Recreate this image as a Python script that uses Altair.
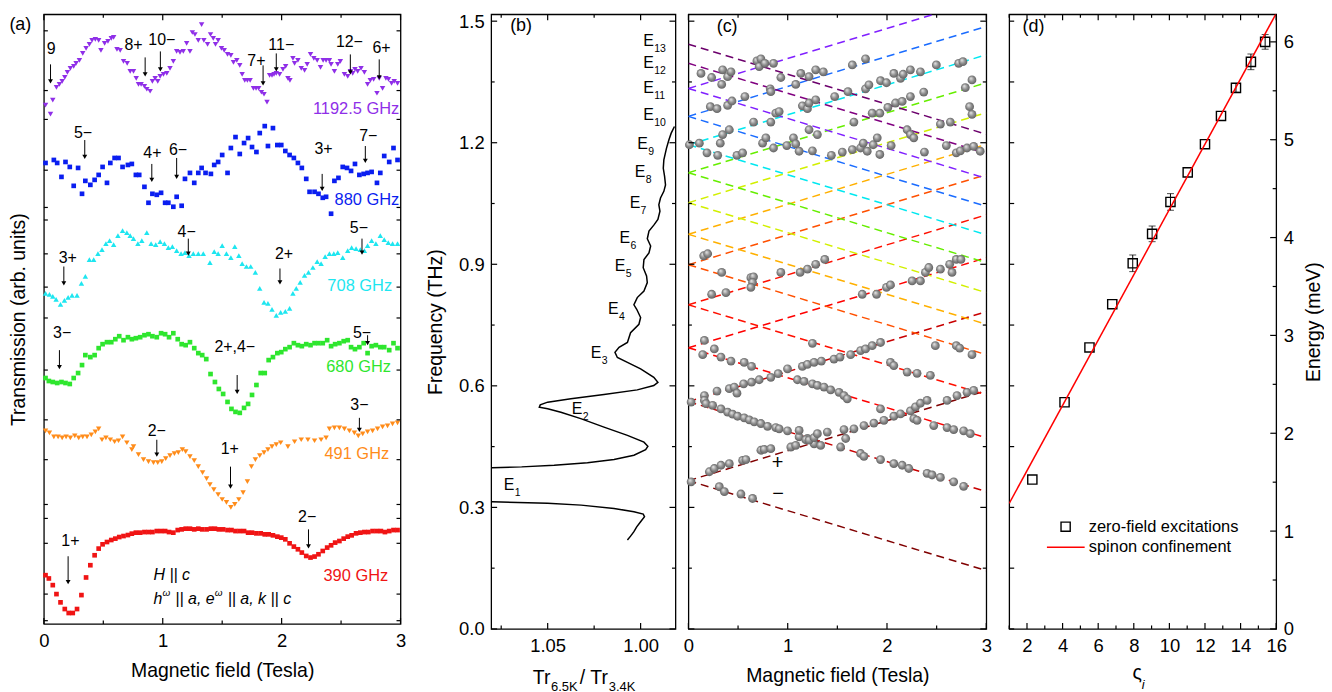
import altair as alt
import pandas as pd

FONT = "Liberation Sans"
LAB = 18.5
TIT = 19.5
ANN = 16

# ======================= panel (a): transmission spectra =======================
a1192_x = [0.014,0.056,0.075,0.106,0.131,0.154,0.176,0.198,0.223,0.251, 0.271,0.299,0.327,0.355,0.383,0.405,0.433,0.461,0.480,0.511,
           0.539,0.567,0.587,0.615,0.642,0.670,0.701,0.726,0.754,0.777, 0.796,0.818,0.846,0.866,0.894,0.913,0.936,0.958,0.978,1.006,
           1.034,1.061,1.089,1.117,1.145,1.173,1.201,1.229,1.249,1.271, 1.299,1.327,1.346,1.377,1.402,1.425,1.444,1.466,1.494,1.517,
           1.545,1.573,1.595,1.623,1.648,1.668,1.690,1.712,1.735,1.763, 1.785,1.807,1.830,1.852,1.877,1.899,1.919,1.936,1.955,1.983,
           2.011,2.034,2.053,2.070,2.095,2.109,2.137,2.165,2.193,2.215, 2.243,2.271,2.299,2.327,2.349,2.374,2.402,2.416,2.444,2.472,
           2.494,2.528,2.556,2.578,2.598,2.617,2.640,2.668,2.696,2.723, 2.746,2.774,2.802,2.821,2.849,2.877,2.899,2.925,2.947,2.975]
a1192_y = [5.21,5.12,5.26,5.39,5.42,5.45,5.49,5.54,5.58,5.60, 5.63,5.66,5.73,5.78,5.82,5.86,5.87,5.86,5.76,5.83,
           5.85,5.88,5.89,5.77,5.76,5.65,5.63,5.55,5.55,5.48, 5.42,5.42,5.40,5.37,5.35,5.45,5.48,5.45,5.50,5.52,
           5.53,5.58,5.65,5.75,5.74,5.75,5.83,5.75,5.94,5.92, 5.86,6.02,5.86,5.82,5.92,5.88,5.82,5.86,5.78,5.76,
           5.72,5.71,5.64,5.66,5.61,5.52,5.46,5.46,5.46,5.38, 5.38,5.38,5.34,5.32,5.24,5.51,5.51,5.52,5.53,5.52,
           5.57,5.60,5.48,5.46,5.68,5.63,5.66,5.58,5.56,5.62, 5.72,5.68,5.66,5.59,5.66,5.66,5.66,5.62,5.55,5.62,
           5.65,5.52,5.50,5.55,5.53,5.57,5.55,5.58,5.54,5.42, 5.46,5.47,5.33,5.48,5.38,5.48,5.47,5.43,5.45,5.43]

a880_x = [0.014,0.084,0.112,0.148,0.182,0.218,0.251,0.288,0.321,0.349, 0.391,0.427,0.461,0.494,0.531,0.559,0.595,0.628,0.662,0.707,
          0.740,0.774,0.802,0.846,0.880,0.913,0.950,0.986,1.020,1.047, 1.089,1.117,1.159,1.187,1.229,1.265,1.299,1.327,1.360,1.405,
          1.433,1.466,1.500,1.545,1.573,1.612,1.648,1.684,1.718,1.751, 1.788,1.816,1.858,1.885,1.927,1.964,1.997,2.031,2.067,2.103,
          2.137,2.170,2.207,2.235,2.277,2.310,2.346,2.374,2.416,2.444, 2.478,2.514,2.550,2.584,2.617,2.654,2.690,2.723,2.757,2.802,
          2.830,2.863,2.905,2.941,2.975]
a880_y = [4.63,4.66,4.63,4.49,4.64,4.59,4.40,4.58,4.32,4.45, 4.41,4.46,4.51,4.59,4.43,4.63,4.68,4.68,4.59,4.61,
          4.62,4.51,4.51,4.39,4.23,4.32,4.31,4.33,4.23,4.23, 4.19,4.29,4.20,4.47,4.53,4.43,4.53,4.58,4.53,4.52,
          4.61,4.64,4.71,4.53,4.78,4.89,4.72,4.83,4.88,4.79, 4.74,4.93,5.00,4.80,4.98,4.81,4.81,4.75,4.71,4.68,
          4.63,4.58,4.47,4.34,4.34,4.32,4.28,4.29,4.12,4.45, 4.48,4.59,4.58,4.55,4.62,4.51,4.52,4.53,4.54,4.43,
          4.53,4.70,4.64,4.78,4.66]

a708_x = [0.014,0.047,0.075,0.103,0.140,0.173,0.204,0.237,0.279,0.316, 0.349,0.383,0.419,0.455,0.489,0.522,0.553,0.587,0.623,0.662,
          0.698,0.726,0.754,0.791,0.824,0.866,0.902,0.941,0.978,1.014, 1.047,1.081,1.117,1.154,1.187,1.221,1.257,1.299,1.341,1.397,
          1.433,1.466,1.500,1.536,1.573,1.606,1.640,1.668,1.704,1.740, 1.779,1.816,1.852,1.885,1.919,1.955,1.992,2.031,2.067,2.095,
          2.123,2.156,2.193,2.226,2.263,2.299,2.332,2.366,2.402,2.439, 2.472,2.514,2.556,2.589,2.626,2.662,2.696,2.723,2.757,2.793,
          2.830,2.863,2.897,2.933,2.975]
a708_y = [3.32,3.31,3.29,3.26,3.21,3.25,3.28,3.30,3.30,3.42, 3.49,3.66,3.66,3.72,3.76,3.82,3.85,3.81,3.90,3.95,
          3.93,3.90,3.87,3.82,3.85,3.93,3.82,3.81,3.84,3.82, 3.78,3.79,3.75,3.72,3.73,3.70,3.72,3.72,3.72,3.63,
          3.74,3.72,3.80,3.72,3.68,3.79,3.70,3.62,3.59,3.59, 3.53,3.37,3.23,3.22,3.16,3.10,3.13,3.14,3.17,3.32,
          3.37,3.43,3.50,3.53,3.58,3.64,3.62,3.69,3.72,3.72, 3.73,3.68,3.75,3.78,3.77,3.76,3.75,3.80,3.85,3.82,
          3.90,3.86,3.83,3.82,3.82]

a680_x = [0.014,0.042,0.075,0.112,0.148,0.182,0.218,0.251,0.288,0.321, 0.349,0.391,0.427,0.461,0.494,0.531,0.567,0.601,0.634,0.670,
          0.707,0.740,0.774,0.810,0.846,0.880,0.913,0.950,0.986,1.020, 1.053,1.089,1.126,1.159,1.193,1.229,1.265,1.299,1.332,1.366,
          1.402,1.439,1.472,1.508,1.545,1.578,1.612,1.648,1.684,1.718, 1.751,1.788,1.824,1.858,1.891,1.927,1.964,1.997,2.031,2.067,
          2.103,2.137,2.170,2.207,2.243,2.277,2.310,2.346,2.383,2.416, 2.450,2.486,2.522,2.556,2.584,2.617,2.654,2.690,2.723,2.757,
          2.793,2.830,2.863,2.905,2.941,2.975]
a680_y = [2.47,2.44,2.43,2.42,2.43,2.42,2.41,2.47,2.52,2.60, 2.70,2.68,2.70,2.77,2.81,2.83,2.83,2.86,2.89,2.85,
          2.88,2.86,2.87,2.88,2.90,2.91,2.89,2.88,2.92,2.91, 2.88,2.92,2.86,2.81,2.80,2.83,2.77,2.72,2.70,2.66,
          2.51,2.43,2.36,2.31,2.23,2.16,2.13,2.12,2.17,2.21, 2.30,2.40,2.52,2.52,2.65,2.68,2.72,2.73,2.76,2.78,
          2.82,2.80,2.79,2.81,2.80,2.82,2.82,2.82,2.85,2.79, 2.81,2.82,2.84,2.85,2.78,2.76,2.78,2.82,2.72,2.79,
          2.80,2.78,2.78,2.75,2.82,2.77]

a491_x = [0.014,0.047,0.084,0.120,0.154,0.187,0.223,0.260,0.293,0.327, 0.363,0.399,0.433,0.461,0.489,0.522,0.559,0.595,0.628,0.662,
          0.698,0.740,0.754,0.796,0.838,0.880,0.922,0.958,0.992,1.025, 1.061,1.098,1.131,1.165,1.193,1.229,1.265,1.299,1.335,1.369,
          1.397,1.430,1.466,1.500,1.536,1.573,1.606,1.640,1.676,1.712, 1.746,1.779,1.816,1.852,1.885,1.919,1.955,1.992,2.053,2.109,
          2.165,2.221,2.277,2.332,2.374,2.402,2.444,2.486,2.528,2.570, 2.612,2.645,2.682,2.723,2.765,2.807,2.849,2.891,2.933,2.975]
a491_y = [1.94,1.92,1.88,1.88,1.87,1.88,1.87,1.89,1.87,1.88, 1.88,1.90,1.93,1.96,1.85,1.87,1.85,1.83,1.84,1.88,
          1.82,1.75,1.78,1.70,1.65,1.63,1.62,1.62,1.63,1.66, 1.69,1.71,1.72,1.75,1.73,1.68,1.64,1.58,1.52,1.46,
          1.40,1.35,1.30,1.25,1.22,1.17,1.20,1.25,1.32,1.43, 1.58,1.65,1.69,1.72,1.75,1.78,1.80,1.82,1.78,1.83,
          1.85,1.85,1.84,1.85,1.87,1.96,1.97,1.97,1.96,1.94, 1.92,1.89,1.91,1.93,1.94,1.96,1.98,1.99,2.01,2.02]

a390_x = [0.014,0.042,0.075,0.106,0.140,0.176,0.209,0.243,0.279,0.316, 0.355,0.391,0.427,0.461,0.494,0.531,0.567,0.601,0.634,0.670,
          0.707,0.740,0.774,0.810,0.846,0.880,0.913,0.950,0.986,1.020, 1.053,1.089,1.126,1.159,1.193,1.229,1.265,1.299,1.332,1.369,
          1.405,1.439,1.472,1.508,1.545,1.578,1.612,1.648,1.684,1.718, 1.751,1.788,1.824,1.858,1.891,1.927,1.964,1.997,2.031,2.067,
          2.103,2.137,2.170,2.207,2.243,2.277,2.310,2.346,2.383,2.416, 2.450,2.486,2.522,2.556,2.589,2.626,2.662,2.696,2.729,2.765,
          2.802,2.835,2.869,2.905,2.941,2.975]
a390_y = [0.49,0.457,0.39,0.30,0.217,0.15,0.11,0.11,0.15,0.29, 0.467,0.59,0.69,0.757,0.80,0.823,0.843,0.857,0.873,0.883,
          0.893,0.907,0.917,0.917,0.923,0.923,0.923,0.933,0.933,0.933, 0.923,0.917,0.943,0.95,0.957,0.957,0.95,0.957,0.95,0.95,
          0.957,0.957,0.95,0.95,0.943,0.943,0.933,0.933,0.933,0.917, 0.917,0.91,0.91,0.90,0.90,0.89,0.877,0.867,0.85,0.81,
          0.777,0.75,0.717,0.683,0.667,0.677,0.70,0.733,0.767,0.79, 0.817,0.833,0.857,0.877,0.89,0.91,0.917,0.923,0.923,0.933,
          0.933,0.933,0.923,0.933,0.943,0.943]

# arrow annotations (field, upper end, lower end) and their labels
a_arrow_x = [0.056,0.852,0.980,1.844,1.955,2.578,2.821, 0.344,0.908,1.117,2.341,2.704, 0.168,1.215,1.986,2.676,
             0.131,1.626,2.723, 0.950,1.570,2.654, 0.204,2.226]
a_arrow_top = [5.62,5.69,5.75,5.61,5.73,5.72,5.67, 4.86,4.62,4.68,4.52,4.80, 3.59,3.87,3.57,3.87,
               2.75,2.50,2.90, 1.85,1.58,2.07, 0.68,0.95]
a_arrow_bot = [5.45,5.52,5.57,5.43,5.57,5.54,5.49, 4.69,4.46,4.49,4.37,4.65, 3.42,3.72,3.43,3.73,
               2.58,2.33,2.82, 1.70,1.38,1.95, 0.42,0.78]
a_lab_text = ["9","8+","10\u2212","7+","11\u2212","12\u2212","6+", "5\u2212","4+","6\u2212","3+","7\u2212",
              "3+","4\u2212","2+","5\u2212", "3\u2212","2+,4\u2212","5\u2212", "2\u2212","1+","3\u2212", "1+","2\u2212"]
a_lab_x = [0.061,0.754,0.992,1.788,1.997,2.570,2.840, 0.330,0.913,1.128,2.352,2.729, 0.201,1.201,2.020,2.650,
           0.154,1.606,2.676, 0.950,1.564,2.654, 0.223,2.215]
a_lab_y = [5.77,5.81,5.86,5.65,5.81,5.84,5.78, 4.93,4.73,4.76,4.77,4.90, 3.68,3.94,3.72,3.98,
           2.92,2.78,2.92, 1.94,1.76,2.20, 0.83,1.07]
a_freq_text = ["1192.5 GHz", "880 GHz", "708 GHz", "680 GHz", "491 GHz", "390 GHz"]
a_freq_x = [2.99, 2.99, 2.93, 2.92, 2.905, 2.897]
a_freq_y = [5.17, 4.26, 3.39, 2.58, 1.71, 0.48]
a_colors = ["#8f2fe8", "#0a1ef0", "#1ee6f0", "#2ee62e", "#ff8c1a", "#f01414"]
a_yticks = [5.957,5.357,5.067,4.557,4.183,4.057,3.717,3.383,3.073,2.55,2.05,1.65,1.20,1.06,0.81,0.30,0.033]

# ======================= panel (b): transmission ratio =======================
b_low_r = [1.0071,1.0054,1.0036,1.0021,1.0000,0.9979,0.9986,1.0036,1.0143,1.0320,1.0500,1.0660,1.0800]
b_low_f = [0.2196,0.229,0.240,0.252,0.2646,0.277,0.2835,0.289,0.2975,0.3056,0.310,0.312,0.3137]
b_high_r = [1.0800,1.0640,1.0465,1.0286,1.0143,1.0036,0.9973,0.9961,0.9982,1.0071,1.0197,1.0322,1.0429,1.0500,1.0545,
            1.0540,1.0500,1.0375,1.0197,1.0018,0.9929,0.9907,0.9929,1.0000,1.0071,1.0125,1.0138,1.0116,1.0071,1.0054,
            1.0009,1.0000,1.0021,1.0036,1.0018,0.9982,0.9964,0.9968,0.9986,0.9982,0.9955,0.9946,0.9964,0.9955,0.9929,
            0.9907,0.9896,0.9902,0.9893,0.9875,0.9866,0.9871,0.9878,0.9875,0.9861,0.9848,0.9836,0.9818]
b_high_f = [0.398,0.400,0.404,0.410,0.418,0.4286,0.4425,0.4507,0.461,0.4777,0.498,0.519,0.535,0.5434,0.5473,
            0.553,0.5597,0.568,0.5786,0.590,0.6007,0.6088,0.621,0.6418,0.658,0.670,0.6826,0.695,0.707,0.731,
            0.752,0.7687,0.789,0.800,0.8178,0.834,0.8547,0.871,0.8916,0.912,0.928,0.945,0.963,0.982,0.9966,
            1.0105,1.031,1.047,1.0637,1.080,1.096,1.117,1.137,1.1575,1.186,1.2066,1.223,1.240]
b_E_sub = ["1","2","3","4","5","6","7","8","9","10","11","12","13"]
b_E_r = [1.0736,1.0370,1.0268,1.0175,1.0139,1.0113,1.0059,1.0031,1.0018,0.9986,0.9986,0.9986,0.9986]
b_E_f = [0.3548,0.5434,0.680,0.789,0.8957,0.9654,1.0514,1.1276,1.1965,1.2687,1.3359,1.3957,1.4507]

# ======================= panel (c): field dependence =======================
c_f0 = [0.366,0.561,0.694,0.800,0.899,0.974,1.052,1.126,1.195,1.265,1.334,1.396,1.443]
c_up3 = [0.588,0.783,0.916,1.022,1.121,1.196,1.274,1.348,1.417,1.487,1.556,None,None]
c_dn3 = [0.144,0.339,0.472,0.578,0.677,0.752,0.830,0.904,0.973,1.043,1.112,1.174,1.221]
c_colors = ["#800000","#c80000","#ff0000","#ff1000","#ff5000","#ffb000","#d2f000","#66ee00",
            "#00e8f0","#1a6cff","#8020ff","#800080","#6c006c"]
c_ball_B = [0.144,0.261,0.328,0.429,0.562,0.636,1.249, 1.098,1.165,1.249,1.299,1.366,1.433,1.517,1.567,1.600,1.935,2.270,2.303,2.471,2.605,2.672,2.772,2.839,
            2.035,2.069,2.203,2.303,2.437, 2.487,2.698,2.732,2.856,
            0.161,0.288,0.412,0.462,0.489,0.556,0.636,0.713,0.830,0.904,0.998,1.148,1.199,1.266,1.339,1.466,1.527,1.634,1.734,1.784,1.851,1.935,
            0.027,0.161,0.177,0.244,0.328,0.395,0.445,0.495,0.562,0.613,0.663,0.730,0.797,0.880,0.914,0.998,1.115,1.199,1.266,1.332,1.533,1.734,1.768,1.935,2.069,2.153,2.220,2.404,2.454,2.538,2.672,2.772,
            0.027,0.211,0.261,0.328,0.412,0.546,0.579,0.730,0.763,0.830,1.031,1.081,1.115,1.182,1.215,1.266,1.299,1.399,1.567,1.584,1.667,1.768,1.868,1.969,2.069,2.136,2.236,2.287,2.337,2.404,2.605,2.705,2.806,2.873,
            0.311,0.362,0.529,0.646,
            0.154,0.194,0.335,0.629,0.656,0.646,0.629,0.234,0.378,0.931,1.125,1.199,1.282,1.373,1.751,1.895,1.995,2.035,2.253,2.337,2.387,2.421,2.538,2.631,2.655,2.698,2.745,0.161,
            0.010,0.110,0.187,0.295,0.321,0.345,0.412,0.489,0.546,0.656,0.747,0.780,0.830,0.857,0.991,1.058,1.081,1.115,1.215,1.249,1.299,1.440,1.550,1.651,1.667,1.734,1.761,1.801,1.861,1.902,1.928,2.042,2.203,2.236,2.270,2.377,2.538,2.598,2.638,2.698,2.739,2.806,2.873,2.939,
            0.221,0.288,0.395,0.439,0.569,0.824,0.830,0.880,0.914,1.148,1.199,1.215,1.282,1.473,1.607,1.784,1.818,1.851,1.928,2.009,2.086,2.153,2.236,2.370,2.832,2.856,
            0.127,0.234,0.335,0.345,0.395,0.429,0.690,0.713,0.730,0.770,0.857,0.931,1.081,1.132,1.215,1.282,1.359,1.651,1.784,1.935,1.995,2.069,2.136,2.163,2.236,2.337,2.497,2.722,2.765,2.789,2.856]
c_ball_f = [0.677,0.691,0.671,0.661,0.658,0.648,0.705, 0.615,0.611,0.605,0.601,0.597,0.590,0.584,0.576,0.568,0.543,0.519,0.515,0.502,0.497,0.492,0.489,0.482,
            0.658,0.650,0.634,0.631,0.626, 0.699,0.699,0.693,0.677,
            0.576,0.587,0.593,0.597,0.582,0.605,0.609,0.615,0.621,0.630,0.642,0.648,0.653,0.658,0.661,0.666,0.671,0.677,0.687,0.691,0.699,0.707,
            0.560,0.564,0.556,0.552,0.543,0.535,0.530,0.525,0.521,0.516,0.511,0.507,0.500,0.497,0.494,0.489,0.474,0.470,0.457,0.453,0.449,0.433,0.426,0.418,0.408,0.404,0.396,0.384,0.380,0.374,0.363,0.352,
            0.363,0.388,0.396,0.404,0.408,0.416,0.418,0.441,0.443,0.445,0.449,0.453,0.490,0.467,0.466,0.472,0.482,0.486,0.492,0.470,0.494,0.502,0.508,0.515,0.525,0.531,0.538,0.548,0.557,0.564,0.564,0.576,0.584,0.589,
            0.351,0.339,0.333,0.322,
            0.921,0.926,0.880,0.867,0.869,0.855,0.843,0.826,0.830,0.880,0.880,0.888,0.900,0.912,0.826,0.826,0.843,0.849,0.859,0.859,0.880,0.892,0.888,0.900,0.880,0.912,0.912,0.712,
            1.195,1.199,1.175,1.169,1.199,1.220,1.232,1.169,1.175,1.251,1.199,1.212,1.251,1.187,1.193,1.212,1.197,1.179,1.232,1.180,1.220,1.169,1.177,1.183,1.251,1.187,1.199,1.179,1.195,1.212,1.171,1.193,1.232,1.220,1.212,1.177,1.246,1.193,1.251,1.175,1.180,1.187,1.191,1.179,
            1.289,1.284,1.292,1.303,1.314,1.333,1.326,1.273,1.277,1.291,1.284,1.298,1.306,1.314,1.326,1.333,1.343,1.273,1.273,1.287,1.298,1.302,1.314,1.325,1.289,1.270,
            1.371,1.361,1.344,1.380,1.363,1.375,1.402,1.388,1.407,1.396,1.396,1.361,1.344,1.371,1.363,1.380,1.375,1.392,1.407,1.353,1.348,1.371,1.359,1.369,1.380,1.375,1.392,1.396,1.400,1.336,1.355]

# ======================= panel (d): zero-field excitations =======================
d_zeta = [2.30,4.11,5.51,6.79,7.94,9.03,10.06,11.03,12.00,12.90,13.74,14.58,15.38]
d_E = [1.527,2.317,2.877,3.319,3.737,4.038,4.364,4.666,4.954,5.243,5.530,5.796,6.000]
d_err = [0,0,0,0,0.085,0.08,0.085,0,0,0,0.045,0.08,0.075]
d_line_x = [1.0, 16.0]
d_line_E = [1.283, 6.29]

# ======================= helpers =======================
def xy(xs, ys):
    n = min(len(xs), len(ys))
    return pd.DataFrame({"x": list(xs[:n]), "y": list(ys[:n])})


def xticks(vals, scale, axis, H, L):
    df = pd.DataFrame({"v": vals})
    base = alt.Chart(df).mark_rule(color="black", strokeWidth=1.2)
    X = alt.X("v:Q", scale=scale, axis=axis)
    return [base.encode(x=X, y=alt.value(H), y2=alt.value(H - L)),
            base.encode(x=X, y=alt.value(0), y2=alt.value(L))]


def yticks(vals, scale, axis, W, L, left=True, right=True):
    df = pd.DataFrame({"v": vals})
    base = alt.Chart(df).mark_rule(color="black", strokeWidth=1.2)
    Y = alt.Y("v:Q", scale=scale, axis=axis)
    out = []
    if left:
        out.append(base.encode(y=Y, x=alt.value(0), x2=alt.value(L)))
    if right:
        out.append(base.encode(y=Y, x=alt.value(W), x2=alt.value(W - L)))
    return out


def texts(xs, ys, ts, sx, sy, ax, ay, **kw):
    df = pd.DataFrame({"x": xs, "y": ys, "t": ts})
    return alt.Chart(df).mark_text(font=FONT, **kw).encode(
        x=alt.X("x:Q", scale=sx, axis=ax),
        y=alt.Y("y:Q", scale=sy, axis=ay),
        text="t:N")


def spacer(w, h):
    return alt.Chart(pd.DataFrame({"v": [0]})).mark_point(opacity=0).encode(
        x=alt.value(0), y=alt.value(0)).properties(
        width=w, height=h, view=alt.ViewBackground(stroke="transparent", strokeWidth=0))

# ======================= panel (a) =======================
WA, HA = 358, 612
xA = alt.Scale(domain=[0, 3], nice=False, zero=False)
yA = alt.Scale(domain=[0, 6.123], nice=False, zero=False)
axXA = alt.Axis(values=[0, 1, 2, 3], format="d", title="Magnetic field (Tesla)", labelPadding=8, titlePadding=11)
axYA = alt.Axis(title="Transmission (arb. units)", labels=False, titlePadding=15)
a_series = [(a1192_x, a1192_y, "triangle-down", 30), (a880_x, a880_y, "square", 22),
            (a708_x, a708_y, "triangle-up", 30), (a680_x, a680_y, "square", 22),
            (a491_x, a491_y, "triangle-down", 30), (a390_x, a390_y, "square", 22)]
layersA = []
for i, (xs, ys, shp, sz) in enumerate(a_series):
    layersA.append(alt.Chart(xy(xs, ys)).mark_point(shape=shp, filled=True, size=sz,
                                                    color=a_colors[i], opacity=1).encode(
        x=alt.X("x:Q", scale=xA, axis=axXA), y=alt.Y("y:Q", scale=yA, axis=axYA)))
arr = pd.DataFrame({"x": a_arrow_x, "y1": a_arrow_top, "y2": a_arrow_bot})
layersA.append(alt.Chart(arr).mark_rule(color="black", strokeWidth=1).encode(
    x=alt.X("x:Q", scale=xA, axis=axXA), y=alt.Y("y1:Q", scale=yA, axis=axYA), y2="y2:Q"))
layersA.append(alt.Chart(arr).mark_point(shape="triangle-down", filled=True, size=24, color="black", opacity=1).encode(
    x=alt.X("x:Q", scale=xA, axis=axXA), y=alt.Y("y2:Q", scale=yA, axis=axYA)))
layersA.append(texts(a_lab_x, a_lab_y, a_lab_text, xA, yA, axXA, axYA, fontSize=ANN, color="black"))
fdf = pd.DataFrame({"x": a_freq_x, "y": a_freq_y, "t": a_freq_text, "c": a_colors})
layersA.append(alt.Chart(fdf).mark_text(font=FONT, fontSize=16.5, align="right").encode(
    x=alt.X("x:Q", scale=xA, axis=axXA), y=alt.Y("y:Q", scale=yA, axis=axYA), text="t:N",
    color=alt.Color("c:N", scale=None)))
layersA.append(texts([0.922], [0.49], ["H || c"], xA, yA, axXA, axYA, fontSize=ANN, fontStyle="italic", align="left"))
layersA.append(texts([0.922, 1.106, 1.546], [0.25, 0.25, 0.25], ["h", "|| a, e", "|| a, k || c"], xA, yA, axXA, axYA,
                     fontSize=ANN, fontStyle="italic", align="left"))
layersA.append(texts([0.997, 1.437], [0.31, 0.31], ["\u03c9", "\u03c9"], xA, yA, axXA, axYA, fontSize=10,
                     fontStyle="italic", align="left"))
layersA.append(texts([-0.29], [6.015], ["(a)"], xA, yA, axXA, axYA, fontSize=18, align="left"))
layersA += xticks([0, 1, 2, 3], xA, axXA, HA, 6) + xticks([0.5, 1.5, 2.5], xA, axXA, HA, 3.5)
layersA += yticks(a_yticks, yA, axYA, WA, 4)
A = alt.layer(*layersA).properties(width=WA, height=HA)

# ======================= panel (b) =======================
WB, HB = 185, 617
xB = alt.Scale(domain=[0.98125, 1.0804], reverse=True, nice=False, zero=False)
yB = alt.Scale(domain=[0, 1.517], nice=False, zero=False)
axXB = alt.Axis(values=[1.05, 1.0], format=".2f", title=None, labelPadding=8)
axYB = alt.Axis(values=[0, 0.3, 0.6, 0.9, 1.2, 1.5], format=".1f", title="Frequency (THz)",
                labelPadding=7, titlePadding=13)
bdf = pd.concat([pd.DataFrame({"r": b_low_r, "f": b_low_f, "seg": "low"}),
                 pd.DataFrame({"r": b_high_r, "f": b_high_f, "seg": "high"})], ignore_index=True)
bdf["i"] = range(len(bdf))
layersB = [alt.Chart(bdf).mark_line(color="black", strokeWidth=1.5, clip=True).encode(
    x=alt.X("r:Q", scale=xB, axis=axXB), y=alt.Y("f:Q", scale=yB, axis=axYB),
    detail="seg:N", order="i:Q")]
layersB.append(texts(b_E_r, b_E_f, ["E"] * len(b_E_r), xB, yB, axXB, axYB, fontSize=16, align="left"))
layersB.append(texts(b_E_r, b_E_f, b_E_sub, xB, yB, axXB, axYB, fontSize=10.5, align="left", dx=11, dy=8))
layersB.append(texts([1.058, 1.0327], [-0.137, -0.137], ["Tr", "/ Tr"], xB, yB, axXB, axYB, fontSize=TIT,
                     align="left", baseline="alphabetic"))
layersB.append(texts([1.0482, 1.0171], [-0.152, -0.152], ["6.5K", "3.4K"], xB, yB, axXB, axYB, fontSize=13,
                     align="left", baseline="alphabetic"))
layersB.append(texts([1.0643], [1.487], ["(b)"], xB, yB, axXB, axYB, fontSize=18))
layersB += xticks([1.05, 1.0], xB, axXB, HB, 6) + xticks([1.075, 1.025], xB, axXB, HB, 3.5)
layersB += yticks([0, 0.3, 0.6, 0.9, 1.2, 1.5], yB, axYB, WB, 6) + yticks([0.15, 0.45, 0.75, 1.05, 1.35], yB, axYB, WB, 3.5)
B = alt.layer(*layersB).properties(width=WB, height=HB)

# ======================= panel (c) =======================
WC, HC = 299, 617
xC = alt.Scale(domain=[0, 3], nice=False, zero=False)
yC = alt.Scale(domain=[0, 1.517], nice=False, zero=False)
axXC = alt.Axis(values=[0, 1, 2, 3], format="d", title="Magnetic field (Tesla)", labelPadding=8, titlePadding=11)
axYC = None
rows = []
for k in range(len(c_f0)):
    lvl = "E%d" % (k + 1)
    for br, end in (("up", c_up3[k]), ("dn", c_dn3[k])):
        if end is None:
            continue
        rows.append({"lvl": lvl, "key": lvl + br, "B": 0.0, "f": c_f0[k]})
        rows.append({"lvl": lvl, "key": lvl + br, "B": 3.0, "f": end})
cdf = pd.DataFrame(rows)
lvls = ["E%d" % (k + 1) for k in range(len(c_f0))]
grad = alt.RadialGradient(gradient="radial",
                          stops=[alt.GradientStop(color="#eeeeee", offset=0),
                                 alt.GradientStop(color="#8e8e8e", offset=0.55),
                                 alt.GradientStop(color="#5a5a5a", offset=1)],
                          x1=0.35, y1=0.3, r1=0, x2=0.5, y2=0.5, r2=0.55)
layersC = [alt.Chart(cdf).mark_line(strokeDash=[8, 5], strokeWidth=1.5, clip=True).encode(
    x=alt.X("B:Q", scale=xC, axis=axXC), y=alt.Y("f:Q", scale=yC, axis=axYC),
    color=alt.Color("lvl:N", scale=alt.Scale(domain=lvls, range=c_colors), legend=None),
    detail="key:N")]
layersC.append(alt.Chart(xy(c_ball_B, c_ball_f)).mark_circle(size=78, fill=grad, opacity=1).encode(
    x=alt.X("x:Q", scale=xC, axis=axXC), y=alt.Y("y:Q", scale=yC, axis=axYC)))
layersC.append(texts([0.897, 0.904], [0.41, 0.333], ["+", "\u2212"], xC, yC, axXC, axYC, fontSize=20))
layersC.append(texts([0.39], [1.485], ["(c)"], xC, yC, axXC, axYC, fontSize=18))
layersC += xticks([0, 1, 2, 3], xC, axXC, HC, 6) + xticks([0.5, 1.5, 2.5], xC, axXC, HC, 3.5)
layersC += yticks([0, 0.3, 0.6, 0.9, 1.2, 1.5], yC, axYC, WC, 6) + yticks([0.15, 0.45, 0.75, 1.05, 1.35], yC, axYC, WC, 3.5)
C = alt.layer(*layersC).properties(width=WC, height=HC)

# ======================= panel (d) =======================
WD, HD = 268, 617
xD = alt.Scale(domain=[1, 16], nice=False, zero=False)
yD = alt.Scale(domain=[0, 6.282], nice=False, zero=False)
yF = alt.Scale(domain=[0, 1.517], nice=False, zero=False)
axXD = alt.Axis(values=list(range(2, 17, 2)), format="d", title=None, labelPadding=8)
axYD = alt.Axis(orient="right", values=[0, 1, 2, 3, 4, 5, 6], format="d", title="Energy (meV)",
                titleAngle=270, titleBaseline="top", labelPadding=7, titlePadding=11)
ddf = pd.DataFrame({"x": d_zeta, "y": d_E, "e": d_err})
ddf["lo"] = ddf["y"] - ddf["e"]
ddf["hi"] = ddf["y"] + ddf["e"]
edf = ddf[ddf["e"] > 0]
layersD = [alt.Chart(ddf).mark_point(shape="square", filled=False, color="black", size=85, strokeWidth=1.4, opacity=1).encode(
    x=alt.X("x:Q", scale=xD, axis=axXD), y=alt.Y("y:Q", scale=yD, axis=axYD))]
layersD.append(alt.Chart(edf).mark_rule(color="black", strokeWidth=1).encode(
    x=alt.X("x:Q", scale=xD, axis=axXD), y=alt.Y("lo:Q", scale=yD, axis=None), y2="hi:Q"))
for col in ("lo", "hi"):
    layersD.append(alt.Chart(edf).mark_tick(color="black", thickness=1, size=7, orient="horizontal").encode(
        x=alt.X("x:Q", scale=xD, axis=axXD), y=alt.Y(col + ":Q", scale=yD, axis=None)))
ldf = pd.DataFrame({"x": d_line_x, "y": d_line_E})
layersD.append(alt.Chart(ldf).mark_line(color="#ff0000", strokeWidth=1.5, clip=True).encode(
    x=alt.X("x:Q", scale=xD, axis=axXD), y=alt.Y("y:Q", scale=yD, axis=None)))
layersD.append(alt.Chart(pd.DataFrame({"x": [4.17], "y": [1.045]})).mark_point(
    shape="square", filled=False, color="black", size=85, strokeWidth=1.4, opacity=1).encode(
    x=alt.X("x:Q", scale=xD, axis=axXD), y=alt.Y("y:Q", scale=yD, axis=None)))
layersD.append(alt.Chart(pd.DataFrame({"x": [3.12], "x2": [5.24], "y": [0.835]})).mark_rule(
    color="#ff0000", strokeWidth=1.5).encode(
    x=alt.X("x:Q", scale=xD, axis=axXD), x2="x2:Q", y=alt.Y("y:Q", scale=yD, axis=None)))
layersD.append(texts([5.47, 5.47], [1.045, 0.835], ["zero-field excitations", "spinon confinement"], xD, yD, axXD, None,
                     fontSize=16.5, align="left"))
layersD.append(texts([7.93], [-0.516], ["\u03c2"], xD, yD, axXD, None, fontSize=TIT, align="left", baseline="alphabetic"))
layersD.append(texts([8.45], [-0.618], ["i"], xD, yD, axXD, None, fontSize=13, fontStyle="italic", align="left",
                     baseline="alphabetic"))
layersD.append(texts([2.36], [6.147], ["(d)"], xD, yD, axXD, None, fontSize=18))
layersD += xticks(list(range(2, 17, 2)), xD, axXD, HD, 6) + xticks(list(range(1, 16, 2)), xD, axXD, HD, 3.5)
layersD += yticks([0, 1, 2, 3, 4, 5, 6], yD, None, WD, 6, left=False) + yticks([0.5, 1.5, 2.5, 3.5, 4.5, 5.5], yD, None, WD, 3.5, left=False)
layersD += yticks([0, 0.15, 0.3, 0.45, 0.6, 0.75, 0.9, 1.05, 1.2, 1.35, 1.5], yF, None, WD, 5, right=False)
D = alt.layer(*layersD).resolve_scale(y="independent").properties(width=WD, height=HD)

chart = alt.hconcat(A, spacer(90.7, 100), B, spacer(12.3, 100), C, spacer(23, 100), D,
                    spacing=0, bounds="flush").properties(
    padding={"left": 0, "top": 2, "right": 0, "bottom": 0}
).configure_view(stroke="black", strokeWidth=1.3).configure_axis(
    labelFont=FONT, titleFont=FONT, labelFontSize=LAB, titleFontSize=TIT, labelColor="black",
    titleColor="black", titleFontWeight="normal", grid=False, ticks=False, domain=False,
    labelFlush=False, labelOverlap=False
).configure_text(font=FONT)

chart.save("out.html", embed_options={"renderer": "svg", "actions": False})
